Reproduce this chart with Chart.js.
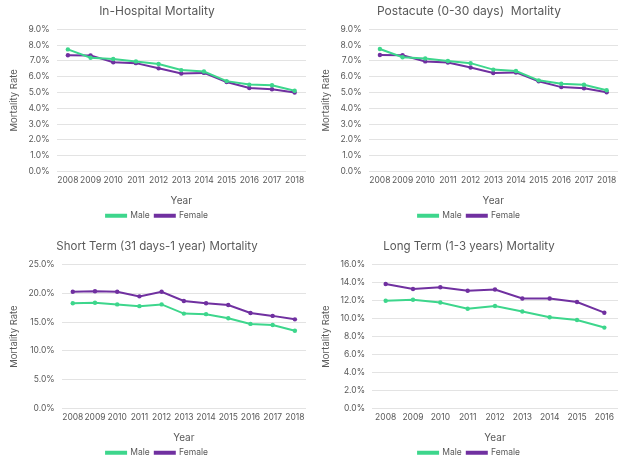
<!DOCTYPE html>
<html lang="en"><head>
<meta charset="UTF-8">
<title>Mortality by Sex</title>
<script src="https://cdn.jsdelivr.net/npm/chart.js"></script>
<style>
  html, body { margin: 0; padding: 0; background: #fff; overflow: hidden; }
  .grid { position: relative; width: 624px; height: 461px; overflow: hidden; }
  .cell { position: absolute; width: 312px; height: 230px; }
  #c1 { left: 0; top: 0; }
  #c2 { left: 312px; top: 0; }
  #c3 { left: 0; top: 230px; height: 237px; }
  #c4 { left: 312px; top: 230px; height: 237px; }
</style>
</head><body>
<div class="grid">
  <div class="cell" id="c1"><canvas id="chart1"></canvas></div>
  <div class="cell" id="c2"><canvas id="chart2"></canvas></div>
  <div class="cell" id="c3"><canvas id="chart3"></canvas></div>
  <div class="cell" id="c4"><canvas id="chart4"></canvas></div>
</div>
<script>
  // years
  const years11 = ['2008', '2009', '2010', '2011', '2012', '2013', '2014', '2015', '2016', '2017', '2018'];
  const years9 = ['2008', '2009', '2010', '2011', '2012', '2013', '2014', '2015', '2016'];

  // mortality rates in percent
  const inHospMale   = [7.73, 7.2, 7.12, 6.97, 6.81, 6.42, 6.33, 5.72, 5.5, 5.46, 5.11];
  const inHospFemale = [7.36, 7.35, 6.92, 6.86, 6.53, 6.2, 6.24, 5.66, 5.28, 5.2, 5.0];

  const postMale   = [7.76, 7.23, 7.15, 7.0, 6.86, 6.45, 6.36, 5.77, 5.55, 5.49, 5.14];
  const postFemale = [7.38, 7.36, 6.97, 6.9, 6.58, 6.23, 6.27, 5.71, 5.34, 5.27, 5.01];

  const shortMale   = [18.3, 18.4, 18.1, 17.8, 18.1, 16.5, 16.4, 15.7, 14.7, 14.5, 13.5];
  const shortFemale = [20.3, 20.4, 20.3, 19.5, 20.3, 18.7, 18.3, 18.0, 16.6, 16.1, 15.5];

  const longMale   = [12.0, 12.1, 11.8, 11.1, 11.4, 10.8, 10.15, 9.85, 9.0];
  const longFemale = [13.86, 13.3, 13.5, 13.1, 13.25, 12.24, 12.24, 11.85, 10.66];

  const maleColor = '#3dd68c';
  const femaleColor = '#7030a0';
  const textColor = '#595959';
  const fontFamily = 'Inter, "Open Sans", sans-serif';

  function makeChart(id, title, labels, male, female, yMax, step, titleSize, topPad) {
    const ctx = document.getElementById(id).getContext('2d');
    return new Chart(ctx, {
      type: 'line',
      data: {
        labels: labels,
        datasets: [
          { label: 'Male', data: male, borderColor: maleColor, backgroundColor: maleColor,
            borderWidth: 2, pointRadius: 2.2, pointBorderWidth: 0, pointHoverRadius: 2.2, tension: 0 },
          { label: 'Female', data: female, borderColor: femaleColor, backgroundColor: femaleColor,
            borderWidth: 2, pointRadius: 2.2, pointBorderWidth: 0, pointHoverRadius: 2.2, tension: 0 }
        ]
      },
      options: {
        responsive: true,
        maintainAspectRatio: false,
        animation: false,
        layout: { padding: { left: 8, right: 6, top: topPad, bottom: 0 } },
        plugins: {
          title: {
            display: true, text: title, color: textColor,
            font: { family: fontFamily, size: titleSize, weight: 'normal' },
            padding: { top: 2, bottom: 11 }
          },
          legend: {
            position: 'bottom',
            labels: {
              color: textColor, boxWidth: 20, boxHeight: 2,
              font: { family: fontFamily, size: 8.5 }, padding: 5
            }
          },
          tooltip: { enabled: false }
        },
        scales: {
          x: {
            offset: true,
            grid: { display: false, drawTicks: false, tickLength: 0 },
            border: { display: false },
            ticks: { color: textColor, font: { family: fontFamily, size: 8.5 }, maxRotation: 0, autoSkip: false, padding: 4 },
            title: { display: true, text: 'Year', color: textColor, font: { family: fontFamily, size: 10 }, padding: { top: 5, bottom: 0 } }
          },
          y: {
            min: 0, max: yMax,
            grid: { color: '#e3e3e3', lineWidth: 1, drawTicks: false },
            border: { display: false },
            ticks: {
              stepSize: step, color: textColor, padding: 7,
              font: { family: fontFamily, size: 8.5 },
              callback: v => v.toFixed(1) + '%'
            },
            title: { display: true, text: 'Mortality Rate', color: textColor, font: { family: fontFamily, size: 9.5 }, padding: { top: 0, bottom: 2 } }
          }
        }
      }
    });
  }

  makeChart('chart1', 'In-Hospital Mortality', years11, inHospMale, inHospFemale, 9, 1, 12, 2);
  makeChart('chart2', 'Postacute (0-30 days)  Mortality', years11, postMale, postFemale, 9, 1, 12, 2);
  makeChart('chart3', 'Short Term (31 days-1 year) Mortality', years11, shortMale, shortFemale, 25, 5, 11.5, 8);
  makeChart('chart4', 'Long Term (1-3 years) Mortality', years9, longMale, longFemale, 16, 2, 11.5, 8);
</script>
</body></html>
